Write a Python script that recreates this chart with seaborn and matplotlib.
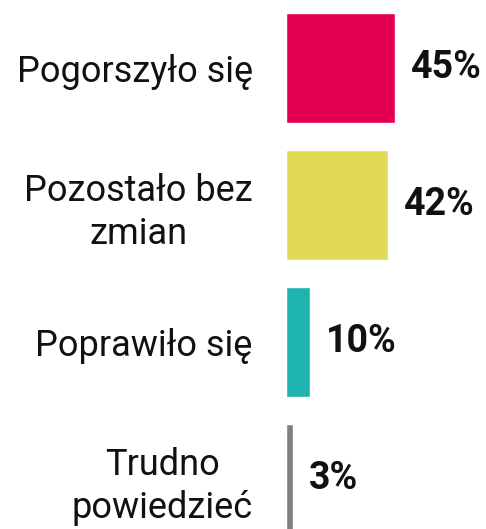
import matplotlib
matplotlib.use("Agg")
import matplotlib.pyplot as plt
import matplotlib.transforms as mtransforms
import seaborn as sns
import pandas as pd

categories = ["Pogorszyło się", "Pozostało bez\nzmian", "Poprawiło się", "Trudno\npowiedzieć"]
values = [45, 42, 10, 3]
colors = ["#E30052", "#E0DA55", "#1FB3AE", "#808080"]

sns.set_style("white")
plt.rcParams['font.family'] = ['Roboto', 'DejaVu Sans']

df = pd.DataFrame({"category": categories, "value": values})

fig = plt.figure(figsize=(4.86, 5.29), dpi=100)
ax = fig.add_axes([286 / 486, 0, 200 / 486, 1])

sns.barplot(data=df, y="category", x="value", hue="category", palette=colors,
            orient="h", width=0.8, legend=False, ax=ax, saturation=1)

ax.set_xlim(0, 200 / 2.42)
ax.set_ylim(3.365, -0.496)
ax.set_xlabel("")
ax.set_ylabel("")
ax.set_xticks([])
ax.set_yticks(range(len(categories)))
ax.set_yticklabels(categories, fontsize=26, multialignment="center",
                   color="#111111", linespacing=1.25)
ax.tick_params(axis="y", length=0, pad=24)
sns.despine(ax=ax, left=True, bottom=True)

offset = mtransforms.offset_copy(ax.transData, fig=fig, x=16, y=0, units="dots")
for i, v in enumerate(values):
    ax.text(v, i, f"{v}%", transform=offset, ha="left", va="center",
            fontsize=27, fontweight="bold", color="#111111")

fig.savefig("out.png", dpi=100)
